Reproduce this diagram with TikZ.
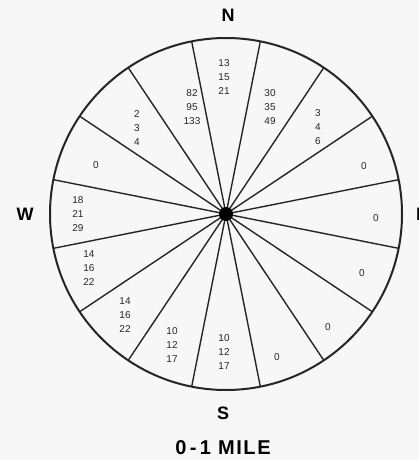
\documentclass[tikz,border=0pt]{standalone}
\usepackage{fontspec}
\setmainfont{Liberation Sans}
\begin{document}
\begin{tikzpicture}[x=1pt,y=-1pt,
  val/.style={font=\fontsize{10}{14}\selectfont, align=center, inner sep=0pt, text=black!85},
  dir/.style={font=\fontsize{18}{18}\selectfont\bfseries, inner sep=0pt},
  spoke/.style={line width=1.4pt, black!85}]
\useasboundingbox (0,0) rectangle (419,460);
\fill[black!3] (0,0) rectangle (419,460);
\coordinate (c) at (226,214);
\draw[line width=2pt, black!85] (c) circle[radius=176];
\foreach \k in {0,...,15}{
  \pgfmathsetmacro{\a}{78.75-22.5*\k}
  \draw[spoke] (c) -- ++(\a:176 and -176);
}
\fill[black] (c) circle[radius=7];
\node[dir] (n) at (228,15) {N};
\node[dir] (s) at (223,413) {S};
\node[dir] (w) at (25,214) {W};
\node[dir, anchor=west] (e) at (416,214) {E};
\node[font=\fontsize{20}{20}\selectfont\bfseries\addfontfeatures{LetterSpace=8}, inner sep=0pt] (t) at (223,448) {0\,-\,1 MILE};
% values
\node[val] (vN) at (224,77) {13\\15\\21};
\node[val] (vNNE) at (270,107) {30\\35\\49};
\node[val] (vNE) at (318,127) {3\\4\\6};
\node[val] (vENE) at (364,166) {0};
\node[val] (vE) at (376,218) {0};
\node[val] (vESE) at (362,273) {0};
\node[val] (vSE) at (328,327) {0};
\node[val] (vSSE) at (277,357) {0};
\node[val] (vS) at (224,352) {10\\12\\17};
\node[val] (vSSW) at (172,345) {10\\12\\17};
\node[val] (vSW) at (125,315) {14\\16\\22};
\node[val] (vWSW) at (89,268) {14\\16\\22};
\node[val] (vW) at (78,214) {18\\21\\29};
\node[val] (vWNW) at (96,165) {0};
\node[val] (vNW) at (137,128) {2\\3\\4};
\node[val] (vNNW) at (192,107) {82\\95\\133};
\end{tikzpicture}
\end{document}
